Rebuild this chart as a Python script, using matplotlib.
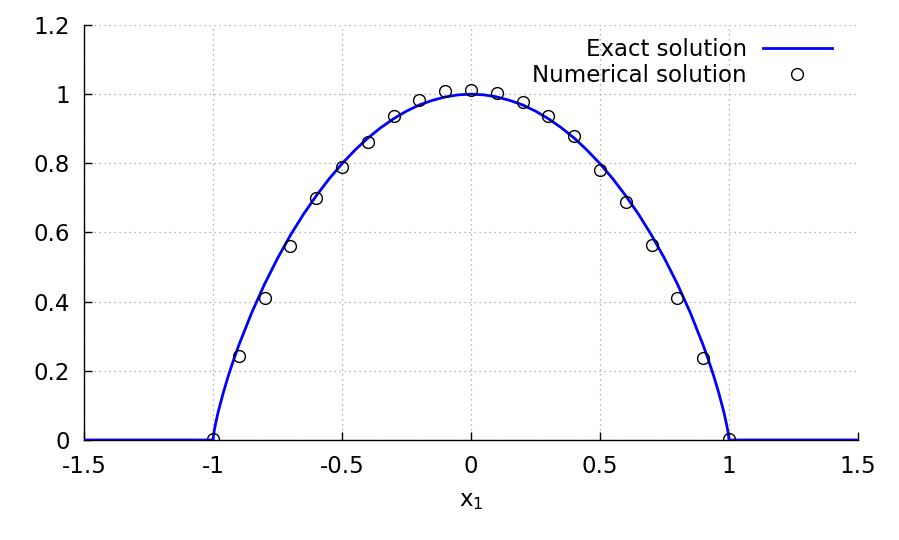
import matplotlib
matplotlib.use("Agg")
import matplotlib.pyplot as plt

# exact solution
exact_x = [-1.5, -1.0, -0.999, -0.998, -0.995, -0.99, -0.98, -0.96, -0.94, -0.92,
           -0.9, -0.85, -0.8, -0.75, -0.7, -0.65, -0.6, -0.55, -0.5, -0.45,
           -0.4, -0.35, -0.3, -0.25, -0.2, -0.15, -0.1, -0.05, 0.0,
           0.05, 0.1, 0.15, 0.2, 0.25, 0.3, 0.35, 0.4, 0.45, 0.5,
           0.55, 0.6, 0.65, 0.7, 0.75, 0.8, 0.85, 0.9, 0.92, 0.94,
           0.96, 0.98, 0.99, 0.995, 0.998, 0.999, 1.0, 1.5]
exact_y = [0.0, 0.0, 0.008, 0.0135, 0.028, 0.047, 0.081, 0.137, 0.187, 0.232,
           0.274, 0.368, 0.451, 0.525, 0.592, 0.652, 0.706, 0.755, 0.799, 0.838,
           0.873, 0.903, 0.929, 0.951, 0.969, 0.982, 0.992, 0.998, 1.0,
           0.998, 0.992, 0.982, 0.969, 0.951, 0.929, 0.903, 0.873, 0.838, 0.799,
           0.755, 0.706, 0.652, 0.592, 0.525, 0.451, 0.368, 0.274, 0.232, 0.187,
           0.137, 0.081, 0.047, 0.028, 0.0135, 0.008, 0.0, 0.0]

# numerical solution points
num_x = [-1.0, -0.9, -0.8, -0.7, -0.6, -0.5, -0.4, -0.3, -0.2, -0.1, 0.0,
         0.1, 0.2, 0.3, 0.4, 0.5, 0.6, 0.7, 0.8, 0.9, 1.0]
num_y = [0.003, 0.244, 0.412, 0.562, 0.700, 0.790, 0.863, 0.936, 0.984, 1.009, 1.013,
         1.002, 0.976, 0.937, 0.879, 0.780, 0.689, 0.564, 0.410, 0.238, 0.003]

xticks = [-1.5, -1.0, -0.5, 0.0, 0.5, 1.0, 1.5]
xtick_labels = ["-1.5", "-1", "-0.5", "0", "0.5", "1", "1.5"]
yticks = [0.0, 0.2, 0.4, 0.6, 0.8, 1.0, 1.2]
ytick_labels = ["0", "0.2", "0.4", "0.6", "0.8", "1", "1.2"]

fs = 16.5
fig = plt.figure(figsize=(8.99, 5.4), dpi=100)
ax = fig.add_axes([84/899, 1-440/540, 774/899, 415/540])

ax.plot(exact_x, exact_y, color="#0000ff", lw=2.0, label="Exact solution", zorder=3)
ax.plot(num_x, num_y, "o", mfc="none", mec="black", mew=1.0, ms=8.5,
        label="Numerical solution", zorder=4)

ax.set_xlim(-1.5, 1.5)
ax.set_ylim(0, 1.2)
ax.set_xticks(xticks)
ax.set_xticklabels(xtick_labels)
ax.set_yticks(yticks)
ax.set_yticklabels(ytick_labels)
ax.tick_params(direction="in", length=6, width=1.0, labelsize=fs, color="black")
ax.tick_params(axis="x", pad=11)
ax.tick_params(axis="y", pad=10)
ax.spines["top"].set_visible(False)
ax.spines["right"].set_visible(False)
for s in ["left", "bottom"]:
    ax.spines[s].set_linewidth(1.0)
ax.grid(True, color="#a0a0a0", linestyle=(0, (1, 3)), linewidth=0.9)
ax.set_axisbelow(True)

ax.set_xlabel(r"x$_1$", fontsize=fs, labelpad=8)

leg = ax.legend(loc="upper right", bbox_to_anchor=(0.966, 0.968), frameon=False,
                markerfirst=False, fontsize=fs, handlelength=3.0, handletextpad=0.7,
                labelspacing=0.14, borderpad=0, borderaxespad=0)

fig.savefig("out.png", dpi=100)
